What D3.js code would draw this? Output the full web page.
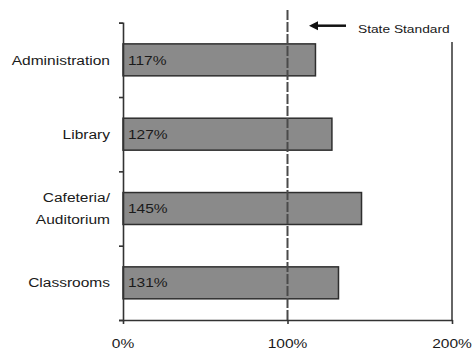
<!DOCTYPE html>
<html>
<head>
<meta charset="utf-8">
<script src="https://cdn.jsdelivr.net/npm/d3@7"></script>
<style>
  html, body { margin: 0; padding: 0; background: #fff; }
  svg { display: block; }
  text { font-family: "Liberation Sans", Arial, sans-serif; fill: #1a1a1a; }
</style>
</head>
<body>
<svg id="chart" width="474" height="350"></svg>
<script>
// Space utilisation as a share of the state standard
const categories = ["Administration", "Library", "Cafeteria/\nAuditorium", "Classrooms"];
const values = [117, 127, 145, 131];
const xTicks = [0, 100, 200];
const standard = 100;
const standardLabel = "State Standard";

const W = 474, H = 350;
const plot = { left: 123, right: 452, top: 22.7, bottom: 320 };
const sx = 1.15; // horizontal stretch applied to text glyphs

const svg = d3.select("#chart");

const x = d3.scaleLinear().domain([0, 200]).range([plot.left, plot.right]);
const y = d3.scaleBand().domain(categories)
  .range([plot.top, plot.bottom])
  .paddingInner(0.57).paddingOuter(0.285);

function stretchedText(g, tx, ty, str, anchor, size, stretch = sx) {
  return g.append("text")
    .attr("transform", `translate(${tx},${ty}) scale(${stretch},1)`)
    .attr("text-anchor", anchor)
    .attr("dominant-baseline", "central")
    .attr("font-size", size)
    .text(str);
}

// Bars
svg.append("g").selectAll("rect")
  .data(categories)
  .join("rect")
  .attr("x", x(0))
  .attr("y", d => y(d))
  .attr("width", (d, i) => x(values[i]) - x(0))
  .attr("height", y.bandwidth())
  .attr("fill", "#8a8a8a")
  .attr("stroke", "#2e2e2e")
  .attr("stroke-width", 1.5);

// Standard reference line
svg.append("line")
  .attr("x1", x(standard)).attr("x2", x(standard))
  .attr("y1", 10).attr("y2", plot.bottom)
  .attr("stroke", "#4a4a4a")
  .attr("stroke-width", 2)
  .attr("stroke-dasharray", "10,2");

// Value labels inside bars
const vl = svg.append("g");
categories.forEach((c, i) => {
  stretchedText(vl, x(0) + 5, y(c) + y.bandwidth() / 2, values[i] + "%", "start", 13.5);
});

// Category labels
const cl = svg.append("g");
categories.forEach(c => {
  const lines = c.split("\n");
  const cy = y(c) + y.bandwidth() / 2;
  const lh = 22;
  lines.forEach((ln, k) => {
    stretchedText(cl, 110, cy + (k - (lines.length - 1) / 2) * lh, ln, "end", 13.5);
  });
});

// Right frame line
svg.append("line")
  .attr("x1", plot.right).attr("x2", plot.right)
  .attr("y1", 42).attr("y2", plot.bottom)
  .attr("stroke", "#333").attr("stroke-width", 1.5);

// Left axis: tick marks at category boundaries
const yEdges = d3.scaleLinear().domain([0, categories.length]).range([plot.top, plot.bottom]);
svg.append("g")
  .attr("transform", `translate(${plot.left},0)`)
  .call(d3.axisLeft(yEdges).ticks(categories.length).tickSize(4).tickFormat(""))
  .call(g => g.selectAll("line, path").attr("stroke", "#333").attr("stroke-width", 1.6));

// Bottom axis
const xa = svg.append("g")
  .attr("transform", `translate(0,${plot.bottom})`)
  .call(d3.axisBottom(x).tickValues(xTicks).tickSize(4).tickSizeOuter(0).tickFormat(d => d + "%"));
xa.selectAll("line, path").attr("stroke", "#333").attr("stroke-width", 1.6);
xa.selectAll("text").remove();
xTicks.forEach(t => stretchedText(xa, x(t), 23, t + "%", "middle", 13.5));

// Annotation arrow and label
const ann = svg.append("g");
const ay = 25.7;
ann.append("line")
  .attr("x1", 346).attr("x2", 316)
  .attr("y1", ay).attr("y2", ay)
  .attr("stroke", "#111").attr("stroke-width", 2.5);
ann.append("path")
  .attr("d", `M309,${ay} L318,${ay - 4.5} L318,${ay + 4.5} Z`)
  .attr("fill", "#111");
stretchedText(ann, 358, 29, standardLabel, "start", 11, 1.25);
</script>
</body>
</html>
